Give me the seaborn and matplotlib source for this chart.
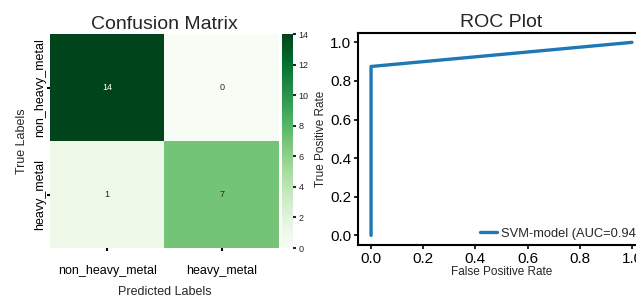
import numpy as np
import pandas as pd
import matplotlib
matplotlib.use("Agg")
import matplotlib.pyplot as plt
import seaborn as sns

# verileri tanimlayalim
class_names = ["non_heavy_metal", "heavy_metal"]
conf_matrix = [[14, 0],
               [1, 7]]
fpr = [0.0, 0.0, 1.0]
tpr = [0.0, 0.875, 1.0]
auc_value = 0.94
model_name = "SVM-model"

sns.set_style("white")
plt.rcParams['font.family'] = ['Liberation Sans', 'DejaVu Sans']

fig = plt.figure(figsize=(6.36, 3.0), dpi=100)

# confusion matrix (sol)
ax1 = fig.add_axes([0.0786, 0.1733, 0.360, 0.713])
cax = fig.add_axes([0.4434, 0.1733, 0.0173, 0.713])
cm_df = pd.DataFrame(conf_matrix, index=class_names, columns=class_names)
sns.heatmap(cm_df, annot=True, cmap="Greens", ax=ax1, cbar_ax=cax,
            vmin=0, vmax=14, annot_kws={"fontsize": 6.5})
ax1.set_title("Confusion Matrix", fontsize=14, pad=4)
ax1.set_xlabel("Predicted Labels", fontsize=9, labelpad=7)
ax1.set_ylabel("True Labels", fontsize=9, labelpad=4)
ax1.tick_params(axis='x', bottom=True, labelsize=9, length=2, width=1.5, pad=10, colors='black')
ax1.tick_params(axis='y', left=True, labelsize=9, length=2, width=1.5, pad=1, colors='black')
ax1.set_yticklabels(class_names, rotation=90, va='center')
cax.tick_params(right=True, labelsize=6.5, length=2, width=1.5, pad=2, colors='#262626')

# ROC egrisi (sag)
ax2 = fig.add_axes([0.5629, 0.1833, 0.4513, 0.7077])
sns.lineplot(x=fpr, y=tpr, ax=ax2, color="#1f77b4", linewidth=2.4,
             label=f"{model_name} (AUC={auc_value:.2f})", sort=False, estimator=None)
ax2.set_title("ROC Plot", fontsize=14, pad=4)
ax2.set_xlabel("False Positive Rate", fontsize=8.5, labelpad=0)
ax2.set_ylabel("True Positive Rate", fontsize=8.5, labelpad=2)
ax2.set_xticks([0.0, 0.2, 0.4, 0.6, 0.8, 1.0])
ax2.set_yticks([0.0, 0.2, 0.4, 0.6, 0.8, 1.0])
ax2.set_xlim(-0.05, 1.05)
ax2.set_ylim(-0.05, 1.05)
ax2.tick_params(bottom=True, left=True, labelsize=11, length=3, width=1.2,
                colors='black', direction='out', pad=2)
for sp in ax2.spines.values():
    sp.set_color('black')
    sp.set_linewidth(1.5)
ax2.legend(loc="lower right", frameon=False, fontsize=9.3, handlelength=1.3,
           handletextpad=0.3, borderaxespad=0.0)

fig.savefig("out.png", dpi=100)
